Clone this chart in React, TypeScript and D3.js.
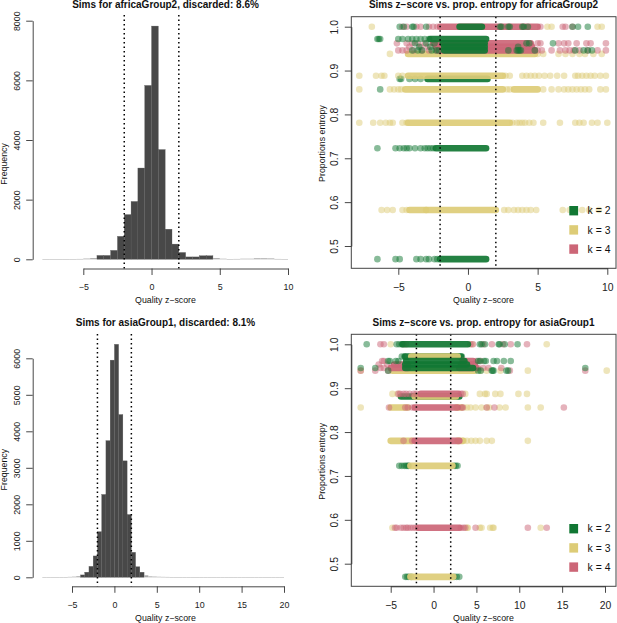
import * as React from 'react';
import { useEffect, useRef } from 'react';
import * as d3 from 'd3';

type Row = { k: 2 | 3 | 4; h: number; runs?: number[][]; zs?: number[] };

const kColors: Record<number, string> = { 2: '#117733', 3: '#DDCC77', 4: '#CC6677' };
const legendKs = [2, 3, 4];

const binWidth = 0.5;
const africaFirstBin = -8;
const africaCounts = [3, 3, 6, 10, 6, 12, 25, 40, 130, 130, 300, 770, 1500, 1940, 3060, 5830, 7820, 3680, 1010, 510, 230, 80, 80, 120, 120, 40, 20, 10, 12, 20, 20, 35, 35, 30, 12, 10];
const asiaFirstBin = -8.5;
const asiaCounts = [2, 2, 3, 3, 5, 8, 12, 18, 30, 65, 140, 300, 585, 1250, 2270, 3745, 5950, 6384, 4460, 3190, 1720, 685, 290, 140, 55, 25, 20, 15, 12, 10, 8, 8, 5, 5, 5, 4, 4, 3, 3, 4, 3, 2, 2, 2, 2, 1, 1, 2, 1, 1, 1, 2, 2, 1, 1, 1, 1];

const africaRows: Row[] = [
  { k: 3, h: 1.0, zs: [-6.9, 5.7, 6, 9.3, 9.6] },
  { k: 4, h: 1.0, runs: [[-2, 5]], zs: [-4.7, -4.4, -3.7, -3.4, -2.8, -2.5, -2.2, 5.2, 6.8, 7, 7.5] },
  { k: 2, h: 1.0, runs: [[-0.6, 1]], zs: [-4.9, -4.6, -4, -3.9, -3, 2.3, 2.4, 2.9, 3, 3.9, 4, 4.3, 7.5, 7.9, 8.6] },
  { k: 3, h: 0.938, runs: [[-4.3, 4.8]], zs: [-5.6, 5, 5.4, 6.5, 7, 7.5, 8, 8.4, 9, 9.6] },
  { k: 4, h: 0.962, runs: [[-2.5, 4.5]], zs: [-5.1, -4.4, -4, -3.6, -3.1, 5, 5.2, 6.5, 6.9, 7.2, 7.8, 8.5, 8.8, 9.9] },
  { k: 4, h: 0.954, runs: [[-2.3, 4.6]], zs: [-4.2, -3.4, -2.9] },
  { k: 4, h: 0.946, runs: [[-2.2, 4.8]], zs: [-5, -4.7, -4.4, -3.9, -3.3, -2.8, 5, 5.3, 6, 6.6, 7, 7.3, 7.6, 8, 8.6, 9.3, 9.9] },
  { k: 2, h: 0.972, runs: [[-2.7, 1.3]], zs: [-6.5, -6.4, -6.3, -5, -4.7, -4.3, -4, -3.7, -3.4, -3.1, -2.8] },
  { k: 2, h: 0.962, runs: [[-1.8, 1.2]], zs: [-3.8, -3, -2.4, 4.2, 4.4, 6.1] },
  { k: 2, h: 0.954, runs: [[-1.7, 1.2]], zs: [-3.5, -2.7, 3.6] },
  { k: 2, h: 0.946, runs: [[-1.7, 1.2]], zs: [-4, -3.6, -3.3, -2.6, -2.3, -2.1, 2.9, 3.5, 3.6, 3.7, 3.8, 4.8, 7.7, 8.3, 8.6, 8.9] },
  { k: 2, h: 0.881, runs: [[-2.9, 1.4]], zs: [-4.9, -4.8, -4.2, -3.8, -3.4] },
  { k: 3, h: 0.888, runs: [[-4.3, 2.5]], zs: [-7.8, -6.6, -6.2, -6, -5, -4.7, 2.7, 3, 3.9, 4.2, 4.5, 4.8, 5.1, 5.5, 5.9, 6.4, 6.9, 7.7, 7.9, 8.2, 8.5, 8.8, 9.1, 9.5, 9.9] },
  { k: 3, h: 0.857, runs: [[-4.5, 2.5], [3.3, 5]], zs: [-7.8, -5.6, -5.3, -5, -4.8, 2.8, 3, 5.4, 6, 6.5, 6.9, 7.2, 7.5, 7.8, 8.1, 8.4, 8.7, 9.5, 9.9] },
  { k: 2, h: 0.857, zs: [-6.3] },
  { k: 3, h: 0.781, runs: [[-4.3, 3]], zs: [-7.8, -6.8, -6.3, -5.9, -5.6, -5.4, -4.7, -4.4, 3.2, 3.5, 3.7, 3.9, 4.1, 4.4, 4.7, 5.4, 6.6, 7.7, 8, 8.3, 8.9, 9.3, 10] },
  { k: 2, h: 0.723, runs: [[-2.3, 1.3]], zs: [-6.5, -5.2, -4.9, -4.6, -4.4, -4.2, -3.8, -3.4, -3.1, -2.9, -2.7, -2.5] },
  { k: 3, h: 0.582, runs: [[-4.2, -3], [-3, 2]], zs: [-6.2, -5.8, -5.4, -4.7, -4.4, 2.6, 2.9, 3.3, 3.6, 3.9, 4.2, 4.5, 4.9, 6.8, 7.3, 7.7, 8.2, 8.7, 9.4] },
  { k: 2, h: 0.47, runs: [[-2, 1.3]], zs: [-6.5, -5.2, -4.9, -3.7, -3.4, -3, -2.8, -2.4, -2.2] },
];

const asiaRows: Row[] = [
  { k: 3, h: 1.0, zs: [-5, 4.5, 13.2] },
  { k: 4, h: 1.0, zs: [-6.2, -5.8, -3.5, -3.2, 4.3, 4.6, 5.8, 6.8, 8.1, 9, 10.9] },
  { k: 2, h: 1.0, runs: [[-3.6, 4]], zs: [-7.8, -4.3, -4, -3.7, 5.4, 5.6, 6, 7.6, 7.7, 8.3, 9.8] },
  { k: 2, h: 0.972, runs: [[-3.3, 3.2]], zs: [-3.7, -3.4, 2.8, 3.3] },
  { k: 3, h: 0.972, runs: [[-2.6, 2.8]] },
  { k: 3, h: 0.94, runs: [[-4.8, 4.8]], zs: [-8.5, 11, 20.2, 5.5, 6.2, 7.8] },
  { k: 4, h: 0.962, runs: [[3.4, 4.6]], zs: [-6, -5.8, 5, 5.5] },
  { k: 4, h: 0.954, runs: [[-4.6, -3], [3.2, 4.8]], zs: [-6.4, -5.4] },
  { k: 4, h: 0.946, runs: [[-5, -3], [3, 5]], zs: [-6.2, -5.8, 5.2, 5.8, 6.4, 7.9] },
  { k: 4, h: 0.94, zs: [-8.5, -6.8, 17.7, -5.3, 8.9] },
  { k: 2, h: 0.962, runs: [[-3.2, 3.6]], zs: [-5.3, -5.1, -4.4, -4.1, 5.2, 5.4, 5.9, 6.1, 7, 7.4, 8.2, 9] },
  { k: 2, h: 0.954, runs: [[-3.3, 3.9]] },
  { k: 2, h: 0.946, runs: [[-3.3, 4.6]], zs: [-8.5, -6.8, 17.7] },
  { k: 2, h: 0.94, zs: [-5.3, 5.2, 5.5, 6.8, 6.9, 7, 8.5, 8.7] },
  { k: 2, h: 0.881, runs: [[-3.8, 3]] },
  { k: 3, h: 0.881, runs: [[-2.2, 2.6]] },
  { k: 3, h: 0.887, zs: [-4.8, -4.2, 3.7, 5.4, 6, 6.2, 7.2, 7.8, 9.9, 10.9] },
  { k: 4, h: 0.887, runs: [[-1.5, 2.9]], zs: [-4.1, -3.9, -3.5, -3.2, -2.8, -2.3, -2, 3.2, 3.4] },
  { k: 3, h: 0.856, runs: [[-5, -3], [2.7, 3.2]], zs: [-8.5, 3.5, 3.9, 4.3, 4.9, 5.6, 6.2, 6.5, 7.7, 8.4, 11, 12.5] },
  { k: 4, h: 0.856, runs: [[-2.2, 2.8]], zs: [-5.2, -3.3, -3, -2.5, 3.3, 3.4, 6.2, 7.1, 15.2] },
  { k: 3, h: 0.78, runs: [[-5, -2.5], [2.8, 3.4]], zs: [3.5, 3.9, 4.4, 4.9, 5.4, 6.2, 6.8, 11] },
  { k: 4, h: 0.78, runs: [[-2.2, 3]], zs: [-3.5, -2.5] },
  { k: 2, h: 0.723, zs: [-4, -3.7, -3.4, -3.2, -3, -2.9, 2.4, 2.6, 2.8] },
  { k: 3, h: 0.723, runs: [[-2.7, 2.2]] },
  { k: 3, h: 0.582, zs: [-4.8, 3.9, 4, 5.4, 5.6, 6.6, 6.9, 7, 12.5] },
  { k: 4, h: 0.582, runs: [[-1.8, 3]], zs: [-4.5, -4.3, -3.8, -3.5, -3.2, -3, -2.7, -2.4, -2.1, 3.2, 3.5, 3.7, 4.9, 11, 13.2] },
  { k: 2, h: 0.47, zs: [-3.3, -3.1, -2.9, -2.6, 2.4, 2.7, 3] },
  { k: 3, h: 0.47, runs: [[-2.7, 2.3]] },
];

const entropyTicks = [0.5, 0.6, 0.7, 0.8, 0.9, 1.0];
const cutoffs = [-2, 2];
const fontFamily = '"Liberation Sans", Arial, sans-serif';
const axisColor = '#333';
const minus = (v: number) => String(v).replace('-', '\u2212');

// x axis in the R style: the line only runs between the first and last tick
function drawXAxis(g: any, x: any, ticks: number[], y: number, tickY: number, fontSize: number) {
  const first = ticks[0];
  const last = ticks[ticks.length - 1];
  const axisScale = d3.scaleLinear().domain([first, last]).range([x(first), x(last)]);
  const axis = g.append('g').attr('transform', `translate(0,${y})`)
    .call(d3.axisBottom(axisScale).tickValues(ticks).tickSize(6.5).tickSizeOuter(0).tickFormat((v: any) => minus(v)));
  axis.selectAll('path,line').attr('stroke', axisColor).attr('stroke-width', 0.9);
  axis.selectAll('text').attr('y', tickY - y).attr('dy', '0.35em').attr('fill', '#222')
    .attr('font-size', fontSize).attr('font-family', fontFamily);
}

function drawYAxis(g: any, y: any, ticks: number[], x: number, tickX: number, fontSize: number, fmt: (v: number) => string) {
  const first = ticks[0];
  const last = ticks[ticks.length - 1];
  const axisScale = d3.scaleLinear().domain([first, last]).range([y(first), y(last)]);
  const axis = g.append('g').attr('transform', `translate(${x},0)`)
    .call(d3.axisLeft(axisScale).tickValues(ticks).tickSize(6.5).tickSizeOuter(0).tickFormat((v: any) => fmt(v)));
  axis.selectAll('path,line').attr('stroke', axisColor).attr('stroke-width', 0.9);
  axis.selectAll('text')
    .attr('x', null).attr('dy', null)
    .attr('transform', `translate(${tickX - x},0) rotate(-90)`)
    .attr('text-anchor', 'middle').attr('dominant-baseline', 'central')
    .attr('fill', '#222').attr('font-size', fontSize).attr('font-family', fontFamily);
}

function label(g: any, text: string, x: number, y: number, size: number, opts: { bold?: boolean; rotate?: boolean } = {}) {
  g.append('text').text(text)
    .attr('transform', `translate(${x},${y})${opts.rotate ? ' rotate(-90)' : ''}`)
    .attr('text-anchor', 'middle').attr('dominant-baseline', 'central')
    .attr('font-size', size).attr('font-family', fontFamily)
    .attr('font-weight', opts.bold ? 'bold' : 'normal').attr('fill', '#111');
}

function drawCutoffs(g: any, x: any, top: number, bottom: number) {
  g.selectAll('.cut').data(cutoffs).join('line').attr('class', 'cut')
    .attr('x1', (d: number) => x(d)).attr('x2', (d: number) => x(d))
    .attr('y1', top).attr('y2', bottom)
    .attr('stroke', '#000').attr('stroke-width', 1.5)
    .attr('stroke-linecap', 'butt').attr('stroke-dasharray', '1.5 3');
}

function drawHist(svg: any, o: any) {
  const g = svg.append('g');
  const x = d3.scaleLinear().domain(o.xRef).range(o.xPx);
  const y = d3.scaleLinear().domain(o.yRef).range(o.yPx);
  g.selectAll('rect').data(o.counts).join('rect')
    .attr('x', (_: number, i: number) => x(o.firstBin + i * binWidth))
    .attr('width', x(binWidth) - x(0))
    .attr('y', (d: number) => y(d))
    .attr('height', (d: number) => Math.max(y(0) - y(d), 0.5))
    .attr('fill', (d: number) => (d < 60 ? '#aaa' : '#484848'))
    .attr('stroke', (d: number) => (d < 60 ? 'none' : '#5c5c5c')).attr('stroke-width', 0.3);
  drawCutoffs(g, x, o.top, o.axisY);
  drawXAxis(g, x, o.xTicks, o.axisY, o.tickY, 8.9);
  drawYAxis(g, y, o.yTicks, 32.7, 16.7, 8.9, (v) => String(v));
  label(g, o.title, 165.5, o.titleY, 10, { bold: true });
  label(g, 'Quality z\u2212score', 165.5, o.xLabelY, 8.8);
  label(g, 'Frequency', 3.6, y(o.yMid), 8.8, { rotate: true });
}

function drawScatter(svg: any, o: any) {
  const g = svg.append('g');
  const x = d3.scaleLinear().domain(o.xRef).range(o.xPx);
  const y = d3.scaleLinear().domain([0.5, 1]).range(o.yPx);
  const r = 3.3;
  (o.rows as Row[]).forEach((row) => {
    const rowG = g.append('g');
    rowG.selectAll('line').data(row.runs ?? []).join('line')
      .attr('x1', (d: number[]) => x(d[0])).attr('x2', (d: number[]) => x(d[1]))
      .attr('y1', y(row.h)).attr('y2', y(row.h))
      .attr('stroke', kColors[row.k]).attr('stroke-width', r * 2)
      .attr('stroke-linecap', 'round').attr('stroke-opacity', 0.92);
    rowG.selectAll('circle').data(row.zs ?? []).join('circle')
      .attr('cx', (d: number) => x(d)).attr('cy', y(row.h)).attr('r', r)
      .attr('fill', kColors[row.k]).attr('fill-opacity', 0.5);
  });
  drawCutoffs(g, x, o.top, o.bottom);
  g.append('rect').attr('x', 351.3).attr('y', o.top).attr('width', 264.7).attr('height', o.bottom - o.top)
    .attr('fill', 'none').attr('stroke', '#444').attr('stroke-width', 1);
  drawXAxis(g, x, o.xTicks, o.bottom, o.tickY, 10.4);
  drawYAxis(g, y, entropyTicks, 351.3, 334, 10.4, (v) => v.toFixed(1));
  label(g, o.title, o.titleX, o.titleY, 10, { bold: true });
  label(g, 'Quality z\u2212score', 483.5, o.xLabelY, 8.8);
  label(g, 'Proportions entropy', 321.7, (o.top + o.bottom) / 2 + 1, 8.8, { rotate: true });
  legendKs.forEach((k, i) => {
    const top = o.legendY + i * 19.2;
    g.append('rect').attr('x', 569.3).attr('y', top).attr('width', 8.8).attr('height', 9.4).attr('fill', kColors[k]);
    g.append('text').text(`k = ${k}`).attr('x', 587.6).attr('y', top + 4.8)
      .attr('dominant-baseline', 'central').attr('font-size', 10.4)
      .attr('font-family', fontFamily).attr('fill', '#111');
  });
}

const App: React.FC = () => {
  const svgRef = useRef<SVGSVGElement | null>(null);

  useEffect(() => {
    if (!svgRef.current) return;
    const svg = d3.select(svgRef.current);
    svg.selectAll('*').remove();

    drawHist(svg, {
      counts: africaCounts, firstBin: africaFirstBin,
      xRef: [-5, 10], xPx: [83.3, 288], yRef: [0, 8000], yPx: [259.3, 20.7],
      xTicks: [-5, 0, 5, 10], yTicks: [0, 2000, 4000, 6000, 8000], yMid: 3200,
      top: 15, axisY: 268.5, tickY: 287, titleY: 4, xLabelY: 300,
      title: 'Sims for africaGroup2, discarded: 8.6%',
    });
    drawScatter(svg, {
      rows: africaRows,
      xRef: [-5, 10], xPx: [398.3, 607.3], yPx: [246, 26.7],
      xTicks: [-5, 0, 5, 10], top: 16.7, bottom: 268.3, tickY: 287, titleY: 4, titleX: 483.5, xLabelY: 300,
      legendY: 206,
      title: 'Sims z\u2212score vs. prop. entropy for africaGroup2',
    });
    drawHist(svg, {
      counts: asiaCounts, firstBin: asiaFirstBin,
      xRef: [-5, 20], xPx: [72, 284], yRef: [0, 6000], yPx: [577.3, 358.3],
      xTicks: [-5, 0, 5, 10, 15, 20], yTicks: [0, 1000, 2000, 3000, 4000, 5000, 6000], yMid: 2950,
      top: 334, axisY: 586.3, tickY: 605, titleY: 322, xLabelY: 618,
      title: 'Sims for asiaGroup1, discarded: 8.1%',
    });
    drawScatter(svg, {
      rows: asiaRows,
      xRef: [-5, 20], xPx: [390.7, 605], yPx: [563.7, 344.3],
      xTicks: [-5, 0, 5, 10, 15, 20], top: 334.3, bottom: 586.3, tickY: 605, titleY: 322, titleX: 483.5, xLabelY: 618,
      legendY: 524,
      title: 'Sims z\u2212score vs. prop. entropy for asiaGroup1',
    });
  }, []);

  return (
    <svg ref={svgRef} width={617} height={623}
      style={{ position: 'absolute', left: 0, top: 0, background: '#fff' }} />
  );
};

export default App;
